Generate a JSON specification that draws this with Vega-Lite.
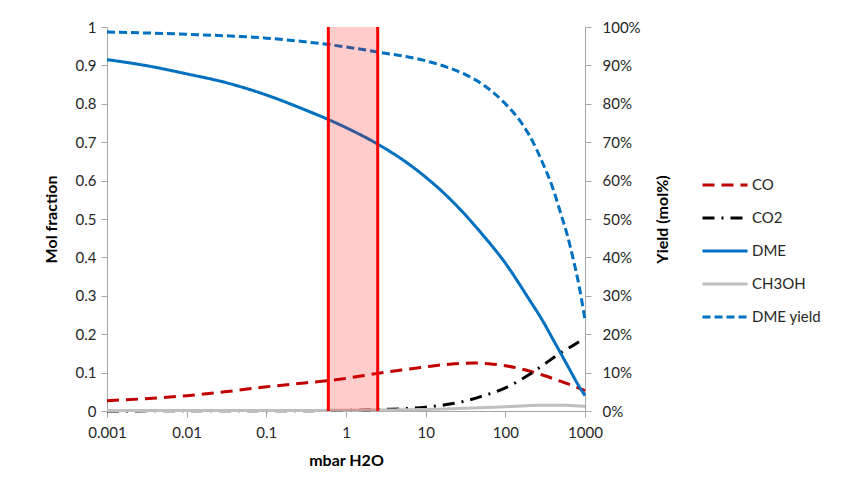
{
  "$schema": "https://vega.github.io/schema/vega-lite/v6.json",
  "width": 478,
  "height": 384,
  "autosize": {"type": "none"},
  "padding": {"left": 107, "top": 27, "right": 261, "bottom": 81},
  "background": "white",
  "config": {
    "view": {"stroke": null},
    "font": "Lato",
    "axis": {
      "labelFont": "Lato", "labelFontSize": 15, "labelColor": "#262626",
      "titleFont": "Lato", "titleFontSize": 16, "titleFontWeight": "bold", "titleColor": "#000000",
      "domainColor": "#A6A6A6", "tickColor": "#A6A6A6", "tickSize": 6, "grid": false
    }
  },
  "datasets": {
    "mol": [
      {"p": 0.001, "series": "CO", "v": 0.027},
      {"p": 0.003, "series": "CO", "v": 0.032},
      {"p": 0.01, "series": "CO", "v": 0.040},
      {"p": 0.03, "series": "CO", "v": 0.050},
      {"p": 0.1, "series": "CO", "v": 0.063},
      {"p": 0.3, "series": "CO", "v": 0.073},
      {"p": 0.6, "series": "CO", "v": 0.079},
      {"p": 1, "series": "CO", "v": 0.085},
      {"p": 2.5, "series": "CO", "v": 0.098},
      {"p": 5, "series": "CO", "v": 0.107},
      {"p": 10, "series": "CO", "v": 0.115},
      {"p": 20, "series": "CO", "v": 0.122},
      {"p": 40, "series": "CO", "v": 0.125},
      {"p": 70, "series": "CO", "v": 0.122},
      {"p": 100, "series": "CO", "v": 0.118},
      {"p": 200, "series": "CO", "v": 0.104},
      {"p": 300, "series": "CO", "v": 0.093},
      {"p": 500, "series": "CO", "v": 0.077},
      {"p": 700, "series": "CO", "v": 0.066},
      {"p": 1000, "series": "CO", "v": 0.053},
      {"p": 0.001, "series": "CO2", "v": 0.0003},
      {"p": 0.1, "series": "CO2", "v": 0.0005},
      {"p": 1, "series": "CO2", "v": 0.0015},
      {"p": 3, "series": "CO2", "v": 0.004},
      {"p": 10, "series": "CO2", "v": 0.010},
      {"p": 20, "series": "CO2", "v": 0.018},
      {"p": 30, "series": "CO2", "v": 0.025},
      {"p": 50, "series": "CO2", "v": 0.038},
      {"p": 100, "series": "CO2", "v": 0.060},
      {"p": 200, "series": "CO2", "v": 0.095},
      {"p": 300, "series": "CO2", "v": 0.120},
      {"p": 500, "series": "CO2", "v": 0.152},
      {"p": 700, "series": "CO2", "v": 0.170},
      {"p": 1000, "series": "CO2", "v": 0.190},
      {"p": 0.001, "series": "DME", "v": 0.915},
      {"p": 0.003, "series": "DME", "v": 0.900},
      {"p": 0.01, "series": "DME", "v": 0.878},
      {"p": 0.03, "series": "DME", "v": 0.856},
      {"p": 0.1, "series": "DME", "v": 0.823},
      {"p": 0.3, "series": "DME", "v": 0.785},
      {"p": 0.6, "series": "DME", "v": 0.759},
      {"p": 1, "series": "DME", "v": 0.738},
      {"p": 2.5, "series": "DME", "v": 0.695},
      {"p": 5, "series": "DME", "v": 0.656},
      {"p": 10, "series": "DME", "v": 0.609},
      {"p": 20, "series": "DME", "v": 0.553},
      {"p": 50, "series": "DME", "v": 0.463},
      {"p": 100, "series": "DME", "v": 0.385},
      {"p": 200, "series": "DME", "v": 0.290},
      {"p": 300, "series": "DME", "v": 0.232},
      {"p": 400, "series": "DME", "v": 0.185},
      {"p": 500, "series": "DME", "v": 0.149},
      {"p": 650, "series": "DME", "v": 0.106},
      {"p": 800, "series": "DME", "v": 0.072},
      {"p": 1000, "series": "DME", "v": 0.040},
      {"p": 0.001, "series": "CH3OH", "v": 0.001},
      {"p": 0.1, "series": "CH3OH", "v": 0.001},
      {"p": 1, "series": "CH3OH", "v": 0.002},
      {"p": 10, "series": "CH3OH", "v": 0.004},
      {"p": 30, "series": "CH3OH", "v": 0.007},
      {"p": 100, "series": "CH3OH", "v": 0.011},
      {"p": 300, "series": "CH3OH", "v": 0.015},
      {"p": 500, "series": "CH3OH", "v": 0.015},
      {"p": 1000, "series": "CH3OH", "v": 0.012}
    ],
    "yield": [
      {"p": 0.001, "series": "DME yield", "v": 0.987},
      {"p": 0.01, "series": "DME yield", "v": 0.981},
      {"p": 0.1, "series": "DME yield", "v": 0.971},
      {"p": 1, "series": "DME yield", "v": 0.948},
      {"p": 2.5, "series": "DME yield", "v": 0.935},
      {"p": 10, "series": "DME yield", "v": 0.912},
      {"p": 20, "series": "DME yield", "v": 0.893},
      {"p": 31.6, "series": "DME yield", "v": 0.876},
      {"p": 50, "series": "DME yield", "v": 0.853},
      {"p": 100, "series": "DME yield", "v": 0.800},
      {"p": 150, "series": "DME yield", "v": 0.758},
      {"p": 200, "series": "DME yield", "v": 0.718},
      {"p": 300, "series": "DME yield", "v": 0.642},
      {"p": 400, "series": "DME yield", "v": 0.577},
      {"p": 500, "series": "DME yield", "v": 0.512},
      {"p": 600, "series": "DME yield", "v": 0.458},
      {"p": 700, "series": "DME yield", "v": 0.402},
      {"p": 850, "series": "DME yield", "v": 0.322},
      {"p": 1000, "series": "DME yield", "v": 0.237}
    ],
    "band": [{"p": 0.6, "p2": 2.5}],
    "edges": [{"p": 0.6}, {"p": 2.5}]
  },
  "encoding": {
    "x": {
      "field": "p", "type": "quantitative",
      "scale": {"type": "log", "domain": [0.001, 1000], "nice": false},
      "axis": {
        "title": "mbar H2O", "values": [0.001, 0.01, 0.1, 1, 10, 100, 1000],
        "format": "~g", "labelPadding": 8, "titlePadding": 12, "labelFlush": false
      }
    }
  },
  "layer": [
    {
      "data": {"name": "mol"},
      "mark": {"type": "line", "strokeWidth": 3, "interpolate": "monotone", "strokeCap": "butt"},
      "encoding": {
        "y": {
          "field": "v", "type": "quantitative",
          "scale": {"domain": [0, 1], "nice": false},
          "axis": {
            "title": "Mol fraction", "orient": "left",
            "values": [0, 0.1, 0.2, 0.3, 0.4, 0.5, 0.6, 0.7, 0.8, 0.9, 1],
            "format": "~g", "labelPadding": 5, "titlePadding": 16
          }
        },
        "color": {
          "field": "series", "type": "nominal",
          "scale": {
            "domain": ["CO", "CO2", "DME", "CH3OH", "DME yield"],
            "range": ["#C00000", "#000000", "#0070C0", "#BFBFBF", "#0070C0"]
          },
          "legend": {
            "title": null, "orient": "none", "legendX": 594, "legendY": 148,
            "symbolType": "stroke", "symbolSize": 2025, "symbolStrokeWidth": 3,
            "clipHeight": 20, "rowPadding": 13, "labelFont": "Lato", "labelFontSize": 15,
            "labelColor": "#262626", "labelOffset": 3
          }
        },
        "strokeDash": {
          "field": "series", "type": "nominal",
          "scale": {
            "domain": ["CO", "CO2", "DME", "CH3OH", "DME yield"],
            "range": [[12, 7], [12, 7, 2, 7], [1, 0], [1, 0], [8, 4]]
          },
          "legend": null
        }
      }
    },
    {
      "data": {"name": "yield"},
      "mark": {"type": "line", "strokeWidth": 3, "interpolate": "monotone", "strokeCap": "butt"},
      "encoding": {
        "y": {
          "field": "v", "type": "quantitative",
          "scale": {"domain": [0, 1], "nice": false},
          "axis": {
            "title": "Yield (mol%)", "orient": "right", "titleAngle": 270,
            "values": [0, 0.1, 0.2, 0.3, 0.4, 0.5, 0.6, 0.7, 0.8, 0.9, 1],
            "format": ".0%", "labelPadding": 11, "titlePadding": 30
          }
        },
        "color": {"field": "series", "type": "nominal"},
        "strokeDash": {"field": "series", "type": "nominal"}
      }
    },
    {
      "data": {"name": "band"},
      "mark": {"type": "rect", "color": "#FF0000", "opacity": 0.2},
      "encoding": {
        "x2": {"field": "p2"},
        "y": {"datum": 0, "type": "quantitative", "scale": {"domain": [0, 1], "nice": false}, "axis": null},
        "y2": {"datum": 1}
      }
    },
    {
      "data": {"name": "edges"},
      "mark": {"type": "rule", "color": "#FF0000", "strokeWidth": 3},
      "encoding": {}
    }
  ],
  "resolve": {"scale": {"y": "independent"}}
}
